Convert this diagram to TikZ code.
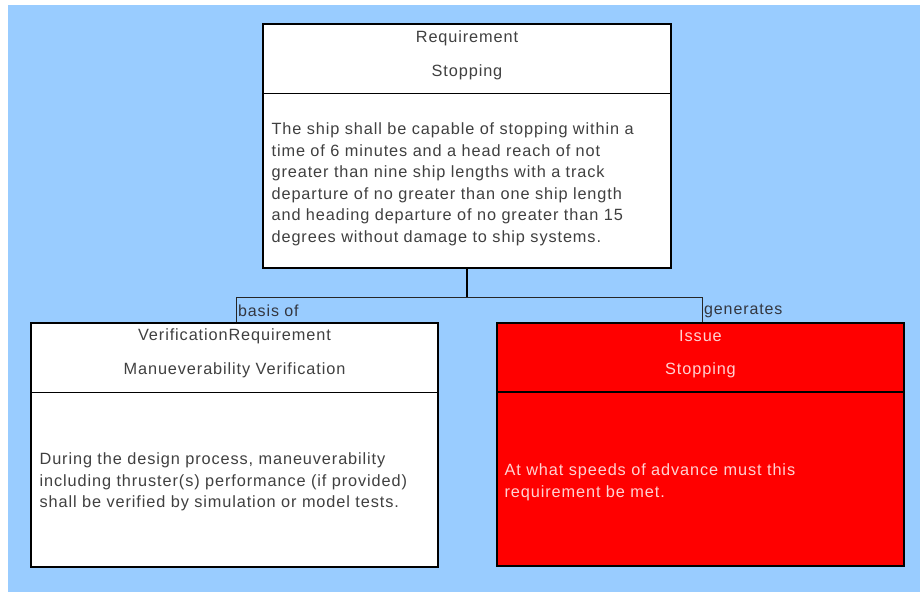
\documentclass[tikz,border=0pt]{standalone}
\usepackage{fontspec}
\setmainfont{Liberation Sans}[LetterSpace=5.5]
\usetikzlibrary{shadows}
\definecolor{canvas}{HTML}{99CCFF}
\definecolor{inktext}{HTML}{404040}
\definecolor{issuered}{HTML}{FF0000}
\definecolor{issuetext}{HTML}{FFD2D2}
\definecolor{lbltext}{HTML}{33363F}
\tikzset{
  elem/.style={draw=black, line width=1.2pt, rectangle, inner sep=0pt,
    minimum width=408pt, minimum height=244pt, fill=white,
    drop shadow={shadow xshift=1.2pt, shadow yshift=-1.2pt, fill=black!55, opacity=1}},
  issuebox/.style={elem, fill=issuered},
  divider/.style={draw=black, line width=1.2pt},
  hdr/.style={font=\fontsize{16.3}{19}\selectfont, text=inktext, inner sep=0pt},
  bodytext/.style={font=\fontsize{16.3}{21.5}\selectfont, text=inktext, align=left, inner sep=4pt},
  redtext/.style={text=issuetext},
  conn/.style={draw=black!85, line width=1pt},
  trunk/.style={draw=black, line width=1.5pt},
  lbl/.style={font=\fontsize{16}{19}\selectfont, text=lbltext, inner sep=2pt, anchor=west}
}
\begin{document}
\begin{tikzpicture}[x=1pt, y=-1pt]
  % page and canvas
  \useasboundingbox (0,0) rectangle (920,592);
  \fill[white] (0,0) rectangle (920,592);
  \fill[canvas] (8,5) rectangle (920,592);

  % requirement element
  \node[elem] (req) at (467,146) {};
  \draw[divider] ([yshift=-70pt]req.north west) -- ([yshift=-70pt]req.north east);
  \node[hdr] (req-kind) at ([yshift=-14.5pt]req.north) {Requirement};
  \node[hdr] (req-name) at ([yshift=-48.5pt]req.north) {Stopping};
  \node[bodytext, anchor=west] (req-body) at ([xshift=5pt, yshift=-38.5pt]req.west)
    {The ship shall be capable of stopping within a\\
     time of 6 minutes and a head reach of not\\
     greater than nine ship lengths with a track\\
     departure of no greater than one ship length\\
     and heading departure of no greater than 15\\
     degrees without damage to ship systems.};

  % verification requirement element
  \node[elem, minimum width=407pt] (ver) at (234.5,445) {};
  \draw[divider] ([yshift=-70pt]ver.north west) -- ([yshift=-70pt]ver.north east);
  \node[hdr] (ver-kind) at ([yshift=-13.5pt]ver.north) {VerificationRequirement};
  \node[hdr] (ver-name) at ([yshift=-47.5pt]ver.north) {Manueverability Verification};
  \node[bodytext, anchor=west] (ver-body) at ([xshift=5pt, yshift=-37pt]ver.west)
    {During the design process, maneuverability\\
     including thruster(s) performance (if provided)\\
     shall be verified by simulation or model tests.};

  % issue element
  \node[issuebox, minimum width=407pt, minimum height=243pt] (iss) at (700.5,444.5) {};
  \draw[divider] ([yshift=-69.5pt]iss.north west) -- ([yshift=-69.5pt]iss.north east);
  \node[hdr, redtext] (iss-kind) at ([yshift=-13.5pt]iss.north) {Issue};
  \node[hdr, redtext] (iss-name) at ([yshift=-47.5pt]iss.north) {Stopping};
  \node[bodytext, redtext, anchor=west] (iss-body) at ([xshift=4pt, yshift=-38pt]iss.west)
    {At what speeds of advance must this\\
     requirement be met.};

  % relationship connectors
  \coordinate (bend-l) at (236,297);
  \coordinate (bend-r) at (702,297);
  \draw[trunk] (req.south) -- (req.south |- bend-l);
  \draw[conn] (bend-l |- ver.north) -- (bend-l) -- (bend-r) -- (bend-r |- iss.north);
  \node[lbl] (basis) at ([yshift=-13.5pt]bend-l) {basis of};
  \node[lbl] (gen) at ([yshift=-13.5pt]bend-r) {generates};
\end{tikzpicture}
\end{document}
